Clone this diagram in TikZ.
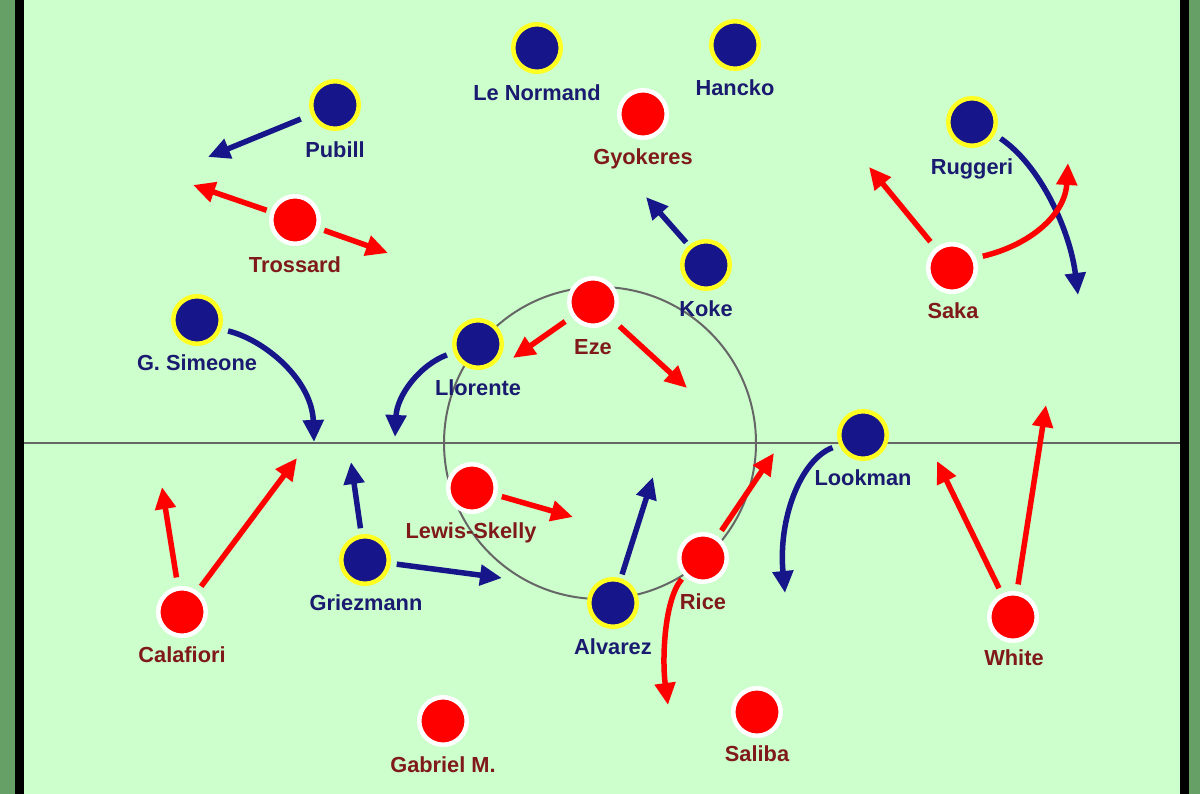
\documentclass[tikz,border=0pt]{standalone}
\usepackage{fontspec}
\setmainfont{Liberation Sans}
\usetikzlibrary{arrows.meta}
\definecolor{field}{HTML}{CCFFCC}
\definecolor{edgegreen}{HTML}{66A066}
\definecolor{navy}{HTML}{16168A}
\definecolor{navytext}{HTML}{1A1A70}
\definecolor{redtext}{HTML}{801A1A}
\definecolor{pred}{HTML}{FF0000}
\definecolor{ring}{HTML}{FFFF22}
\definecolor{pitchline}{HTML}{666666}
\begin{document}
\begin{tikzpicture}[x=1pt,y=-1pt,
 bp/.style={circle,fill=navy,draw=ring,line width=4.5pt,minimum size=47.5pt,inner sep=0pt},
 rp/.style={circle,fill=pred,draw=white,line width=4.5pt,minimum size=47.5pt,inner sep=0pt},
 lab/.style={font=\fontsize{21.8}{24}\selectfont\bfseries,inner sep=0pt,text height=15.5pt,text depth=0pt},
 blab/.style={lab,text=navytext},
 rlab/.style={lab,text=redtext},
 mv/.style={line width=5.5pt,-{Triangle[length=22pt,width=20pt]},shorten <=7pt},
 bmv/.style={mv,draw=navy},
 rmv/.style={mv,draw=pred},
]
\useasboundingbox (0,0) rectangle (1200,794);
% field and borders
\fill[field] (24,0) rectangle (1180,794);
\fill[edgegreen] (0,0) rectangle (15,794);
\fill[black] (15,0) rectangle (24,794);
\fill[black] (1180,0) rectangle (1189,794);
\fill[edgegreen] (1189,0) rectangle (1200,794);
% pitch markings
\coordinate (hl) at (24,443);
\coordinate (hr) at (1180,443);
\coordinate (cc) at (600,443);
\draw[pitchline,line width=2pt] (hl) -- (hr);
\draw[pitchline,line width=2pt] (cc) circle[radius=156];

% blue players
\node[bp] (lenormand) at (537,48) {};
\node[bp] (hancko) at (735,45) {};
\node[bp] (pubill) at (335,105) {};
\node[bp] (ruggeri) at (972,122) {};
\node[bp] (koke) at (706,265) {};
\node[bp] (simeone) at (197,320) {};
\node[bp] (llorente) at (478,344) {};
\node[bp] (lookman) at (863,435) {};
\node[bp] (griezmann) at (365,560) {};
\node[bp] (alvarez) at (613,603) {};
% red players
\node[rp] (gyokeres) at (643,114) {};
\node[rp] (trossard) at (295,220) {};
\node[rp] (saka) at (952,268) {};
\node[rp] (eze) at (593,302) {};
\node[rp] (lewis) at (472,488) {};
\node[rp] (rice) at (703,558) {};
\node[rp] (calafiori) at (182,612) {};
\node[rp] (white) at (1013,617) {};
\node[rp] (gabriel) at (443,721) {};
\node[rp] (saliba) at (757,712) {};

% labels
\node[blab] (lenormandL) at (537,93) {Le Normand};
\node[blab] (hanckoL) at (735,88) {Hancko};
\node[blab] (pubillL) at (335,150) {Pubill};
\node[blab] (ruggeriL) at (972,167) {Ruggeri};
\node[blab] (kokeL) at (706,309) {Koke};
\node[blab] (simeoneL) at (197,363) {G. Simeone};
\node[blab] (llorenteL) at (478,388) {Llorente};
\node[blab] (lookmanL) at (863,478) {Lookman};
\node[blab] (griezmannL) at (366,603) {Griezmann};
\node[blab] (alvarezL) at (613,647) {Alvarez};
\node[rlab] (gyokeresL) at (643,157) {Gyokeres};
\node[rlab] (trossardL) at (295,265) {Trossard};
\node[rlab] (sakaL) at (953,311) {Saka};
\node[rlab] (ezeL) at (593,347) {Eze};
\node[rlab] (lewisL) at (471,531) {Lewis-Skelly};
\node[rlab] (riceL) at (703,602) {Rice};
\node[rlab] (calafioriL) at (182,655) {Calafiori};
\node[rlab] (whiteL) at (1014,658) {White};
\node[rlab] (gabrielL) at (443,765) {Gabriel M.};
\node[rlab] (salibaL) at (757,754) {Saliba};

% arrow end points
\coordinate (tPubill) at (208,157);
\coordinate (tSimeone) at (314,442);
\coordinate (tLlorente) at (395,437);
\coordinate (tKoke) at (646,197);
\coordinate (tRuggeri) at (1078,295);
\coordinate (tLookman) at (785,593);
\coordinate (tGriezUp) at (351,462);
\coordinate (tGriezRt) at (502,578);
\coordinate (tAlvarez) at (653,477);
\coordinate (tTrosL) at (193,185);
\coordinate (tTrosR) at (388,253);
\coordinate (tEzeL) at (513,358);
\coordinate (tEzeR) at (687,388);
\coordinate (tLewis) at (573,517);
\coordinate (tSakaL) at (869,167);
\coordinate (tSakaR) at (1068,163);
\coordinate (tRiceUp) at (774,453);
\coordinate (tRiceDn) at (668,705);
\coordinate (tCalUp) at (162,487);
\coordinate (tCalRt) at (297,458);
\coordinate (tWhiteL) at (937,461);
\coordinate (tWhiteUp) at (1046,405);

% blue movements
\draw[bmv,shorten <=11pt] (pubill) -- (tPubill);
\draw[bmv,shorten <=7pt] (simeone.-21) .. controls (265,340) and (312,380) .. (tSimeone);
\draw[bmv,shorten <=7pt] (llorente.199) .. controls (420,365) and (397,395) .. (tLlorente);
\draw[bmv,shorten <=4pt] (koke) -- (tKoke);
\draw[bmv,shorten <=7pt] (ruggeri.-29) .. controls (1040,165) and (1070,230) .. (tRuggeri);
\draw[bmv,shorten <=7pt] (lookman.203) .. controls (800,460) and (778,520) .. (tLookman);
\draw[bmv,shorten <=6pt] (griezmann) -- (tGriezUp);
\draw[bmv,shorten <=6pt] (griezmann) -- (tGriezRt);
\draw[bmv,shorten <=4pt] (alvarez) -- (tAlvarez);
% red movements
\draw[rmv,shorten <=4pt] (trossard) -- (tTrosL);
\draw[rmv,shorten <=5pt] (trossard) -- (tTrosR);
\draw[rmv,shorten <=8pt] (eze) -- (tEzeL);
\draw[rmv,shorten <=10pt] (eze) -- (tEzeR);
\draw[rmv,shorten <=5pt] (lewis) -- (tLewis);
\draw[rmv,shorten <=8pt] (saka) -- (tSakaL);
\draw[rmv,shorten <=7pt] (saka.23) .. controls (1030,245) and (1065,215) .. (tSakaR);
\draw[rmv,shorten <=7pt] (rice) -- (tRiceUp);
\draw[rmv,shorten <=4pt] (rice.224) .. controls (664,600) and (662,660) .. (tRiceDn);
\draw[rmv,shorten <=9pt] (calafiori) -- (tCalUp);
\draw[rmv,shorten <=6pt] (calafiori) -- (tCalRt);
\draw[rmv,shorten <=6pt] (white) -- (tWhiteL);
\draw[rmv,shorten <=7pt] (white) -- (tWhiteUp);
\end{tikzpicture}
\end{document}
